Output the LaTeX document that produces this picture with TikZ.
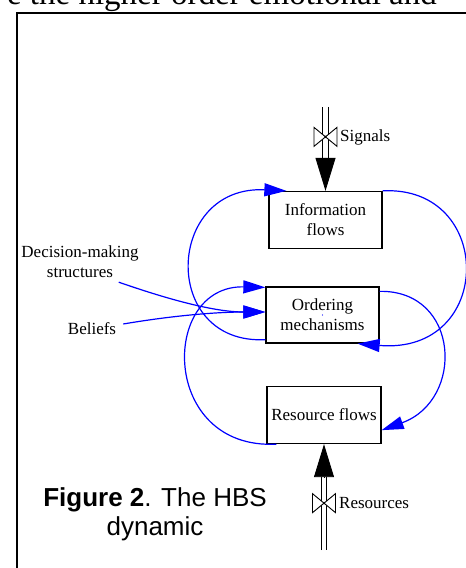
\documentclass[tikz,border=0pt]{standalone}
\usepackage{fontspec}
\setmainfont{Liberation Serif}
\newfontfamily\capfont{Liberation Sans}
\usetikzlibrary{arrows.meta}

\tikzset{
  flowbox/.style={draw, line width=1.3pt, minimum width=113pt, minimum height=57pt, align=center, inner sep=2pt, font=\fontsize{17}{20}\selectfont},
  lbl/.style={inner sep=0pt, align=center, font=\fontsize{17}{20}\selectfont},
  link/.style={blue, line width=1.2pt, -{Triangle[length=22pt,width=13pt]}},
  pipe/.style={double, double distance=4.5pt, line width=0.9pt},
  inflow/.style={line width=0.9pt, -{Triangle[length=33pt,width=20pt]}},
  valve/.pic={\draw[line width=0.9pt, fill=white] (-11.5,-9.5) -- (-11.5,9.5) -- (11.5,-9.5) -- (11.5,9.5) -- cycle;
    \fill (0,0) circle (1.3);}
}

\begin{document}
\begin{tikzpicture}[x=1pt,y=-1pt]
\useasboundingbox (0,0) rectangle (466,568);
\clip (0,0) rectangle (466,568);
% frame and the cut line of text above it
\draw[line width=1.3pt] (17,580) -- (17,13) -- (480,13);
\node[overlay, anchor=base east, inner sep=0pt, font=\fontsize{33}{38}\selectfont] (prevline) at (437,4) {e the higher order emotional and};

% the three flows
\node[flowbox] (info) at (325.5,220) {Information\\flows};
\node[flowbox, minimum height=56pt] (order) at (322.5,315) {Ordering\\mechanisms};
\node[flowbox, minimum width=114pt] (res) at (324,415) {Resource flows};
\fill[blue] (order.center) circle (0.7);

% signals in
\coordinate (sigtop) at ([yshift=84pt]info.north);
\coordinate (sigend) at ([yshift=33pt]info.north);
\draw[pipe] (sigtop) -- (sigend);
\draw[inflow] (sigend) -- (info.north);
\pic at ([yshift=54pt]info.north) {valve};
\node[lbl, anchor=west] (siglbl) at (340,137) {Signals};

% resources in
\coordinate (restop) at ([yshift=-106pt]res.south);
\coordinate (resend) at ([yshift=-33pt]res.south);
\draw[pipe] (restop) -- (resend);
\draw[inflow] (resend) -- (res.south);
\pic at ([yshift=-59pt]res.south) {valve};
\node[lbl, anchor=west] (reslbl) at (339,503) {Resources};

% feedback loops
\draw[link] (info.north east) .. controls (495,185) and (495,355) .. ([xshift=-22pt]order.south east);
\draw[link] ([yshift=4pt]order.south west) .. controls (160,345) and (165,185) .. ([xshift=18pt]info.north west);
\draw[link] ([yshift=-5pt]order.north east) .. controls (460,290) and (465,400) .. ([yshift=14pt]res.south east);
\draw[link] ([xshift=10pt]res.south west) .. controls (160,450) and (160,285) .. ([yshift=-1pt]order.north west);

% outside influences
\node[lbl] (decision) at (80,262) {Decision-making\\structures};
\node[lbl] (beliefs) at (92,329) {Beliefs};
\draw[link] ([shift={(-20pt,-4pt)}]decision.south east) .. controls (170,300) and (215,312) .. ([yshift=3pt]order.west);
\draw[link] ([shift={(7pt,5pt)}]beliefs.east) .. controls (170,316) and (215,312) .. ([yshift=3pt]order.west);

\node[align=center, inner sep=0pt, font=\capfont\fontsize{26}{29}\selectfont] (caption) at (155,514) {\textbf{Figure 2}. The HBS\\dynamic};
\end{tikzpicture}
\end{document}
